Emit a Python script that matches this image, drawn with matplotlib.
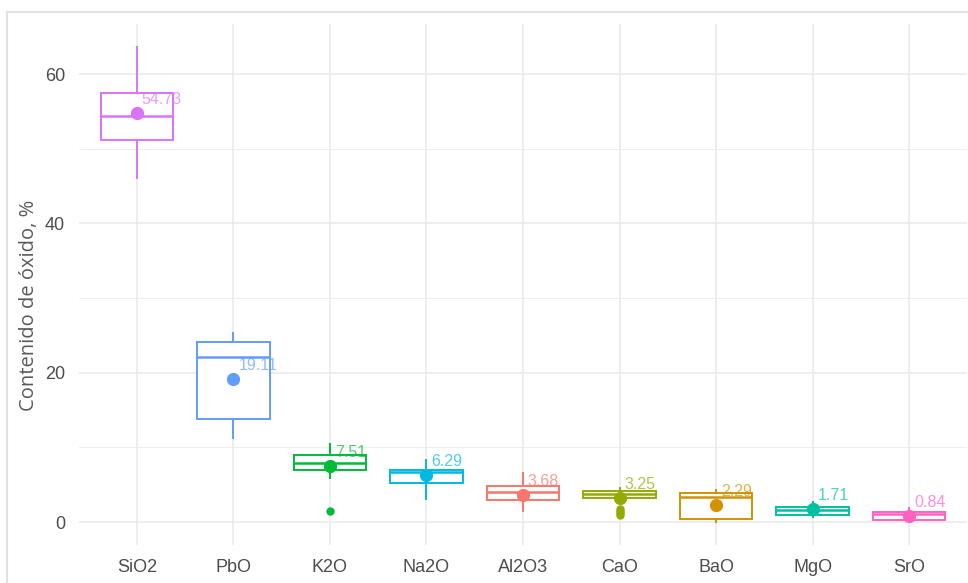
import numpy as np
import matplotlib
matplotlib.use("Agg")
import matplotlib.pyplot as plt
from matplotlib.lines import Line2D

# oxide composition, one box per oxide (ordered by mean)
oxides = ['SiO2', 'PbO', 'K2O', 'Na2O', 'Al2O3', 'CaO', 'BaO', 'MgO', 'SrO']
q1 = [51.2, 13.8, 6.95, 5.2, 2.95, 3.2, 0.35, 0.95, 0.3]
medians = [54.4, 22.1, 7.95, 6.7, 4.05, 3.8, 3.35, 1.6, 1.05]
q3 = [57.5, 24.15, 8.95, 6.9, 4.8, 4.15, 3.9, 2.0, 1.35]
whis_lo = [46.1, 11.25, 5.9, 3.1, 1.5, 2.8, 0.05, 0.7, 0.1]
whis_hi = [63.6, 25.3, 10.4, 8.3, 6.5, 4.6, 4.3, 2.7, 1.9]
means = [54.73, 19.11, 7.51, 6.29, 3.68, 3.25, 2.29, 1.71, 0.84]
outliers = [[], [], [1.5], [], [], [1.0, 1.25, 1.5, 1.75], [], [], []]

colors = ['#DB72FB', '#619CFF', '#00BA38', '#00B9E3', '#F8766D',
          '#93AA00', '#D39200', '#00C19F', '#FF61C3']

fig = plt.figure(figsize=(9.68, 5.83), dpi=100)
ax = fig.add_axes([79 / 968, 1 - 545 / 583, (967 - 79) / 968, (545 - 24) / 583])

pos = np.arange(1, len(oxides) + 1)

for i in range(len(oxides)):
    st = dict(q1=q1[i], med=medians[i], q3=q3[i], whislo=whis_lo[i],
              whishi=whis_hi[i], fliers=outliers[i], label=oxides[i])
    c = colors[i]
    ax.bxp([st], positions=[pos[i]], widths=0.75, showcaps=False,
           patch_artist=True, showfliers=True,
           boxprops=dict(facecolor='white', edgecolor=c, linewidth=1.4),
           medianprops=dict(color=c, linewidth=1.8),
           whiskerprops=dict(color=c, linewidth=1.4),
           flierprops=dict(marker='o', markerfacecolor=c, markeredgecolor=c,
                           markersize=5),
           zorder=3)
    ax.plot(pos[i], means[i], 'o', color=c, markersize=8.5, zorder=5)
    ax.text(pos[i] + 0.05, means[i] + 1.8, f"{means[i]:.2f}", color=c,
            alpha=0.7, fontsize=11.5, family='Liberation Sans',
            ha='left', va='center', zorder=6)

ax.set_xlim(0.4, 9.6)
ax.set_ylim(-3.08, 66.7)
ax.set_xticks(pos)
ax.set_xticklabels(oxides)
ax.set_yticks([0, 20, 40, 60])
ax.set_yticks([10, 30, 50], minor=True)

ax.grid(True, which='major', color='#EBEBEB', linewidth=1.2, zorder=0)
ax.grid(True, which='minor', axis='y', color='#EBEBEB', linewidth=0.6, zorder=0)
ax.set_axisbelow(True)
for s in ax.spines.values():
    s.set_visible(False)
ax.tick_params(which='both', length=0, labelsize=13, labelcolor='#4D4D4D')
ax.tick_params(axis='x', pad=10)
ax.tick_params(axis='y', pad=10)
for lab in ax.get_xticklabels() + ax.get_yticklabels():
    lab.set_family('Liberation Sans')

ax.set_ylabel('Contenido de óxido, %', fontsize=14.5, color='#5A5A5A',
              family='Open Sans')
ax.yaxis.set_label_coords(-0.056, 0.46)
ax.yaxis.label.set_va('center')

# thin light frame around the figure
fig.add_artist(Line2D([7 / 968, 1], [1 - 12 / 583] * 2, color='#E2E2E2',
                      linewidth=1.5, transform=fig.transFigure))
fig.add_artist(Line2D([7 / 968] * 2, [0, 1 - 12 / 583], color='#E2E2E2',
                      linewidth=1.5, transform=fig.transFigure))

fig.savefig('out.png', dpi=100)
